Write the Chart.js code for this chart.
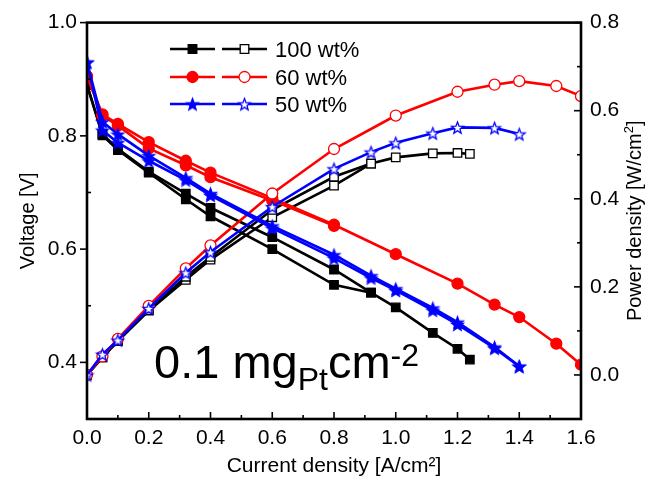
<!DOCTYPE html>
<html>
<head>
<meta charset="utf-8">
<script src="https://cdn.jsdelivr.net/npm/chart.js@4.4.0/dist/chart.umd.min.js"></script>
<style>
html, body { margin: 0; padding: 0; background: #fff; }
</style>
</head>
<body>
<canvas id="myChart" width="654" height="491"></canvas>
<script>
// [DATA]____________________________________________________________________
// current density [A/cm2], voltage [V] (two runs), power density [W/cm2]
const blackI  = [0, 0.05, 0.1, 0.2, 0.32, 0.4, 0.6, 0.8, 0.92, 1.0, 1.12, 1.2, 1.24];
const blackV1 = [0.89, 0.803, 0.777, 0.737, 0.698, 0.673, 0.621, 0.564, 0.523, 0.497, 0.452, 0.424, 0.405];
const blackV2 = [0.89, 0.801, 0.775, 0.735, 0.688, 0.658, 0.600, 0.537, 0.523];
const blackP1 = [0, 0.040, 0.078, 0.147, 0.223, 0.268, 0.375, 0.450, 0.480, 0.494, 0.503, 0.504, 0.502];
const blackP2 = [0, 0.040, 0.077, 0.146, 0.216, 0.262, 0.358, 0.430, 0.480];

const redI  = [0, 0.05, 0.1, 0.2, 0.32, 0.4, 0.6, 0.8, 1.0, 1.2, 1.32, 1.4, 1.52, 1.6];
const redV1 = [0.905, 0.838, 0.821, 0.789, 0.756, 0.735, 0.690, 0.643, 0.591, 0.539, 0.502, 0.480, 0.433, 0.396];
const redV2 = [0.905, 0.836, 0.818, 0.778, 0.748, 0.727, 0.686, 0.641];
const redP  = [0, 0.042, 0.082, 0.157, 0.242, 0.294, 0.412, 0.513, 0.589, 0.643, 0.659, 0.667, 0.656, 0.633];

const blueI  = [0, 0.05, 0.1, 0.2, 0.32, 0.4, 0.6, 0.8, 0.92, 1.0, 1.12, 1.2, 1.32, 1.4];
const blueV1 = [0.93, 0.825, 0.803, 0.765, 0.726, 0.698, 0.641, 0.590, 0.553, 0.530, 0.496, 0.471, 0.427, 0.393];
const blueV2 = [0.93, 0.810, 0.788, 0.756, 0.722, 0.695, 0.637, 0.584, 0.549, 0.527, 0.492, 0.467, 0.425, 0.393];
const blueP  = [0, 0.047, 0.079, 0.151, 0.232, 0.279, 0.382, 0.468, 0.506, 0.527, 0.549, 0.562, 0.561, 0.547];

const legendLabels = ["100 wt%", "60 wt%", "50 wt%"];

const xTicks = [0, 0.2, 0.4, 0.6, 0.8, 1.0, 1.2, 1.4, 1.6];
const xMinor = [0.1, 0.3, 0.5, 0.7, 0.9, 1.1, 1.3, 1.5];
const vTicks = [0.4, 0.6, 0.8, 1.0];
const vMinor = [0.5, 0.7, 0.9];
const pTicks = [0.0, 0.2, 0.4, 0.6, 0.8];
const pMinor = [0.1, 0.3, 0.5, 0.7];

const FONT = "'Liberation Sans', Arial, sans-serif";
const BLACK = "#000000", RED = "#ff0000", BLUE = "#0000ff";

// [MARKERS]____________________________________________________________________
function starImg(fill, stroke, r) {
    const c = document.createElement('canvas');
    const s = Math.ceil(r * 2 + 4);
    c.width = s; c.height = s;
    const g = c.getContext('2d');
    g.translate(s / 2, s / 2 + 0.8);
    g.beginPath();
    for (let i = 0; i < 10; i++) {
        const rr = i % 2 === 0 ? r : r * 0.42;
        const a = -Math.PI / 2 + i * Math.PI / 5;
        g.lineTo(rr * Math.cos(a), rr * Math.sin(a));
    }
    g.closePath();
    g.fillStyle = fill; g.fill();
    g.lineWidth = 1.3; g.strokeStyle = stroke; g.stroke();
    return c;
}
const starFull = starImg(BLUE, BLUE, 6.2);
const starOpen = starImg('#ffffff', BLUE, 6.2);

function pts(xs, ys) { return ys.map((y, i) => ({x: xs[i], y: y})); }

function ds(xs, ys, color, style, open, axis, radius) {
    return {
        data: pts(xs, ys),
        yAxisID: axis,
        borderColor: color,
        borderWidth: 2.6,
        pointStyle: style,
        pointRadius: radius,
        pointBackgroundColor: open ? '#ffffff' : color,
        pointBorderColor: color,
        pointBorderWidth: 1.3,
        tension: 0,
        fill: false,
        clip: 0
    };
}

// first dataset is drawn on top
const datasets = [
    ds(blueI, blueP, BLUE, starOpen, true, 'y1', 6),
    ds(blueI, blueV1, BLUE, starFull, false, 'y', 6),
    ds(blueI, blueV2, BLUE, starFull, false, 'y', 6),
    ds(redI, redP, RED, 'circle', true, 'y1', 5.5),
    ds(redI, redV1, RED, 'circle', false, 'y', 5.5),
    ds(redI, redV2, RED, 'circle', false, 'y', 5.5),
    ds(blackI, blackP1, BLACK, 'rect', true, 'y1', 6),
    ds(blackI, blackP2, BLACK, 'rect', true, 'y1', 6),
    ds(blackI, blackV1, BLACK, 'rect', false, 'y', 6),
    ds(blackI, blackV2, BLACK, 'rect', false, 'y', 6)
];

// [PLUGINS]____________________________________________________________________
const framePlugin = {
    id: 'frame',
    afterDatasetsDraw(chart) {
        const {ctx, chartArea: a, scales: {x, y, y1}} = chart;
        ctx.save();
        ctx.strokeStyle = '#000';
        ctx.lineWidth = 1.6;
        const tick = (x0, y0, x1, y1_) => { ctx.beginPath(); ctx.moveTo(x0, y0); ctx.lineTo(x1, y1_); ctx.stroke(); };
        xTicks.forEach(v => { const p = x.getPixelForValue(v); tick(p, a.bottom, p, a.bottom - 7); });
        xMinor.forEach(v => { const p = x.getPixelForValue(v); tick(p, a.bottom, p, a.bottom - 4); });
        vTicks.forEach(v => { const p = y.getPixelForValue(v); tick(a.left, p, a.left - 7, p); });
        vMinor.forEach(v => { const p = y.getPixelForValue(v); tick(a.left, p, a.left + 4, p); });
        pTicks.forEach(v => { const p = y1.getPixelForValue(v); tick(a.right, p, a.right - 7, p); });
        pMinor.forEach(v => { const p = y1.getPixelForValue(v); tick(a.right, p, a.right - 4, p); });
        ctx.lineWidth = 2.6;
        ctx.strokeRect(a.left, a.top, a.right - a.left, a.bottom - a.top);
        ctx.restore();
    }
};

function drawMarker(ctx, kind, x, y, color, open) {
    if (kind === 'star') {
        const img = open ? starOpen : starFull;
        ctx.drawImage(img, x - img.width / 2, y - img.height / 2);
        return;
    }
    ctx.beginPath();
    if (kind === 'rect') ctx.rect(x - 4.3, y - 4.3, 8.6, 8.6);
    else ctx.arc(x, y, 5.5, 0, Math.PI * 2);
    ctx.fillStyle = open ? '#fff' : color;
    ctx.fill();
    ctx.lineWidth = 1.3;
    ctx.strokeStyle = color;
    ctx.stroke();
}

const legendPlugin = {
    id: 'legendBox',
    afterDraw(chart) {
        const ctx = chart.ctx;
        const rows = [[BLACK, 'rect'], [RED, 'circle'], [BLUE, 'star']];
        const rowY = [49, 77, 104];
        ctx.save();
        rows.forEach((r, i) => {
            const yy = rowY[i];
            ctx.strokeStyle = r[0];
            ctx.lineWidth = 2.6;
            ctx.beginPath(); ctx.moveTo(170, yy); ctx.lineTo(215, yy); ctx.stroke();
            ctx.beginPath(); ctx.moveTo(222, yy); ctx.lineTo(267, yy); ctx.stroke();
            drawMarker(ctx, r[1], 192.5, yy, r[0], false);
            drawMarker(ctx, r[1], 244.5, yy, r[0], true);
            ctx.fillStyle = '#000';
            ctx.font = "22px " + FONT;
            ctx.textBaseline = 'alphabetic';
            ctx.fillText(legendLabels[i], 275, yy + 8);
        });
        ctx.restore();
    }
};

// text with sub/superscripts: [text, size, baseline shift]
function drawPieces(ctx, pieces, x0, base) {
    let xx = x0;
    pieces.forEach(p => {
        ctx.font = p[1] + "px " + FONT;
        ctx.fillText(p[0], xx, base + p[2]);
        xx += ctx.measureText(p[0]).width;
    });
    return xx - x0;
}
function piecesWidth(ctx, pieces) {
    let w = 0;
    pieces.forEach(p => { ctx.font = p[1] + "px " + FONT; w += ctx.measureText(p[0]).width; });
    return w;
}

const notePlugin = {
    id: 'loadingNote',
    afterDraw(chart) {
        const ctx = chart.ctx;
        const a = chart.chartArea;
        ctx.save();
        ctx.fillStyle = '#000';
        ctx.textBaseline = 'alphabetic';
        drawPieces(ctx, [["0.1 mg", 47, 0], ["Pt", 32, 12], ["cm", 47, 0], ["-2", 32, -12]], 154, 378);

        // right axis title, reads bottom to top
        const rt = [["Power density [W/cm", 20, 0], ["2", 13, -8], ["]", 20, 0]];
        const w = piecesWidth(ctx, rt);
        ctx.translate(641, (a.top + a.bottom) / 2);
        ctx.rotate(-Math.PI / 2);
        drawPieces(ctx, rt, -w / 2, 0);
        ctx.restore();
    }
};

// [CHART]____________________________________________________________________
const tickFont = {family: FONT, size: 21};
const titleFont = {family: FONT, size: 20};

const ctx = document.getElementById('myChart').getContext('2d');
const myChart = new Chart(ctx, {
    type: 'line',
    data: {datasets: datasets},
    options: {
        responsive: false,
        animation: false,
        events: [],
        layout: {padding: {top: 21, left: 0, right: 0, bottom: 0}},
        plugins: {legend: {display: false}, tooltip: {enabled: false}},
        scales: {
            x: {
                type: 'linear', min: 0, max: 1.6,
                afterFit(s) { s.height = 72; },
                afterBuildTicks(s) { s.ticks = xTicks.map(v => ({value: v})); },
                grid: {display: false, drawTicks: false},
                border: {display: false},
                ticks: {padding: 7, color: '#000', font: tickFont, maxRotation: 0, autoSkip: false,
                        callback: v => Number(v).toFixed(1)},
                title: {display: true, text: 'Current density [A/cm²]', color: '#000',
                        font: {family: FONT, size: 21}, padding: {top: 0, bottom: 12}}
            },
            y: {
                type: 'linear', position: 'left', min: 0.3, max: 1.0,
                afterFit(s) { s.width = 87; },
                afterBuildTicks(s) { s.ticks = vTicks.map(v => ({value: v})); },
                grid: {display: false, drawTicks: false},
                border: {display: false},
                ticks: {padding: 10, color: '#000', font: tickFont, callback: v => Number(v).toFixed(1)},
                title: {display: true, text: 'Voltage [V]', color: '#000', font: titleFont,
                        padding: {top: 16, bottom: 0}}
            },
            y1: {
                type: 'linear', position: 'right', min: -0.1, max: 0.8,
                afterFit(s) { s.width = 73; },
                afterBuildTicks(s) { s.ticks = pTicks.map(v => ({value: v})); },
                grid: {display: false, drawTicks: false},
                border: {display: false},
                ticks: {padding: 9, color: '#000', font: tickFont, callback: v => Number(v).toFixed(1)},
                title: {display: false}
            }
        }
    },
    plugins: [framePlugin, legendPlugin, notePlugin]
});
</script>
</body>
</html>
